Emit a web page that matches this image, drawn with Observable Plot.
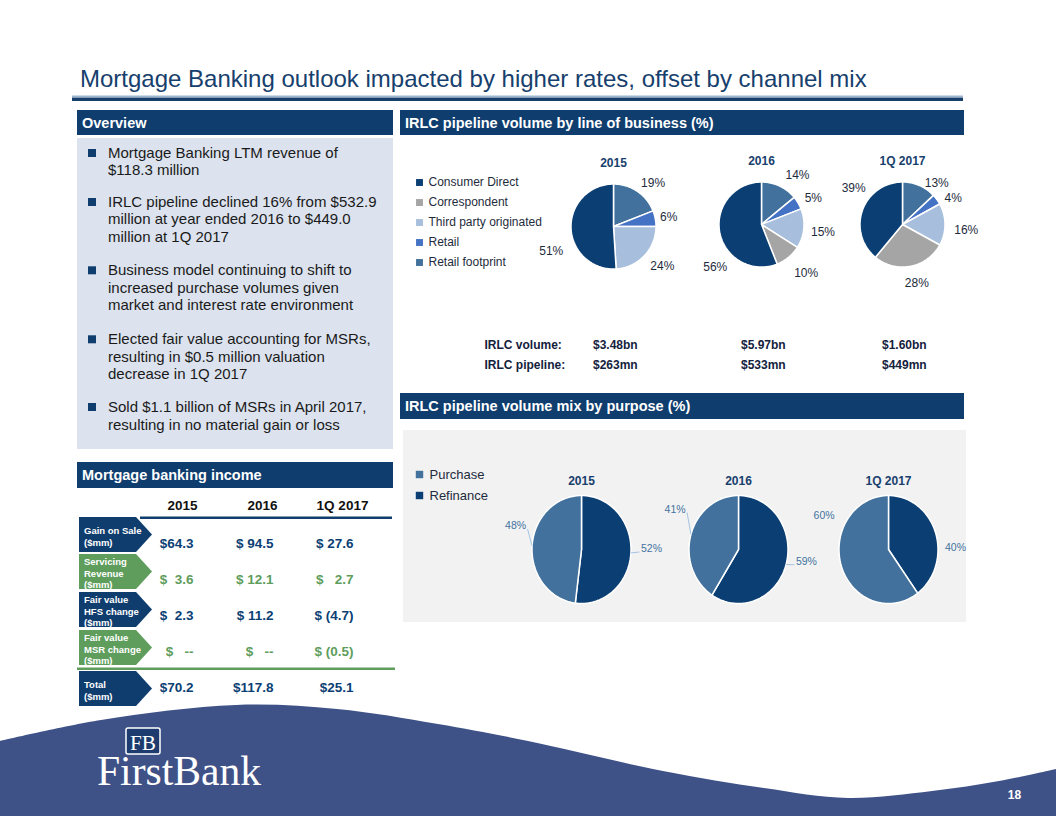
<!DOCTYPE html>
<html><head><meta charset="utf-8">
<script src="https://cdn.jsdelivr.net/npm/d3@7"></script>
<script src="https://cdn.jsdelivr.net/npm/@observablehq/plot@0.6"></script>
<style>
html,body{margin:0;padding:0;background:#fff;overflow:hidden;}
#slide{position:relative;width:1056px;height:816px;overflow:hidden;font-family:"Liberation Sans",Arial,sans-serif;}
#slide svg text{white-space:pre;}
</style></head><body><div id="slide"></div>
<script>
// ---------------- DATA ----------------
const periods = ["2015", "2016", "1Q 2017"];
const channels = ["Consumer Direct", "Correspondent", "Third party originated", "Retail", "Retail footprint"];
const channelShare2015 = [51, 0, 24, 6, 19];
const channelShare2016 = [56, 10, 15, 5, 14];
const channelShare1Q2017 = [39, 28, 16, 4, 13];
const irlcStatLabels = ["IRLC volume:", "IRLC pipeline:"];
const irlcVolume = ["$3.48bn", "$5.97bn", "$1.60bn"];
const irlcPipeline = ["$263mn", "$533mn", "$449mn"];
const purposes = ["Purchase", "Refinance"];
const purchaseShare = [48, 41, 60];
const refinanceShare = [52, 59, 40];
const incomeRows = ["Gain on Sale\n($mm)", "Servicing\nRevenue\n($mm)", "Fair value\nHFS change\n($mm)", "Fair value\nMSR change\n($mm)", "Total\n($mm)"];
const gainOnSale = ["$64.3", "$ 94.5", "$ 27.6"];
const servicingRevenue = ["$  3.6", "$ 12.1", "$   2.7"];
const fairValueHFS = ["$  2.3", "$ 11.2", "$ (4.7)"];
const fairValueMSR = ["$   --", "$   --", "$ (0.5)"];
const totalIncome = ["$70.2", "$117.8", "$25.1"];
const overviewBullets = [
  ["Mortgage Banking LTM revenue of", "$118.3 million"],
  ["IRLC pipeline declined 16% from $532.9", "million at year ended 2016 to $449.0", "million at 1Q 2017"],
  ["Business model continuing to shift to", "increased purchase volumes given", "market and interest rate environment"],
  ["Elected fair value accounting for MSRs,", "resulting in $0.5 million valuation", "decrease in 1Q 2017"],
  ["Sold $1.1 billion of MSRs in April 2017,", "resulting in no material gain or loss"]
];

// ---------------- STYLE / LAYOUT ----------------
const W = 1056, H = 816;
const FONT = "'Liberation Sans', Arial, sans-serif";
const TITLE = "#17406D", BAR = "#0F3D6E", NAVY = "#0B3F74", GREEN = "#5E9D5C", TXT = "#1A1A1A", DARK = "#1E2B3C";
const channelColors = ["#0B3F74", "#A5A5A5", "#A7BFDC", "#4472C4", "#41719C"];
const purposeColors = ["#41719C", "#0B3F74"];
const slide = document.getElementById("slide");

// ---------------- DECOR (slide frame) ----------------
const deco = d3.select(slide).append("svg")
  .attr("width", W).attr("height", H)
  .style("position", "absolute").style("left", "0px").style("top", "0px")
  .attr("font-family", FONT);

deco.append("text").attr("x", 80).attr("y", 87).attr("font-size", 24).attr("fill", TITLE)
  .text("Mortgage Banking outlook impacted by higher rates, offset by channel mix");
deco.append("rect").attr("x", 72).attr("y", 95.5).attr("width", 891).attr("height", 1.6).attr("fill", "#9FB6D2");
deco.append("rect").attr("x", 72).attr("y", 97.5).attr("width", 891).attr("height", 3.5).attr("fill", TITLE);

function bar(x, y, w, h, label) {
  deco.append("rect").attr("x", x).attr("y", y).attr("width", w).attr("height", h).attr("fill", BAR);
  deco.append("text").attr("x", x + 5).attr("y", y + h / 2 + 5).attr("font-size", 14.5)
    .attr("font-weight", "bold").attr("fill", "#fff").text(label);
}
// panels
deco.append("rect").attr("x", 77).attr("y", 138).attr("width", 316).attr("height", 311).attr("fill", "#DCE3EE");
deco.append("rect").attr("x", 403).attr("y", 430).attr("width", 563).attr("height", 192).attr("fill", "#F2F2F2");
bar(77, 110, 316, 25, "Overview");
bar(400, 110, 564, 25, "IRLC pipeline volume by line of business (%)");
bar(400, 393, 564, 26, "IRLC pipeline volume mix by purpose (%)");
bar(77, 462, 316, 26, "Mortgage banking income");

// overview bullets
const bulletCenters = [[152.7, 170], [201.7, 219, 236.7], [270, 287.7, 305], [339, 356.7, 374], [406.7, 425]];
overviewBullets.forEach((lines, i) => {
  deco.append("rect").attr("x", 88).attr("y", bulletCenters[i][0] - 3.7).attr("width", 8).attr("height", 8).attr("fill", BAR);
  lines.forEach((t, j) => {
    deco.append("text").attr("x", 108).attr("y", bulletCenters[i][j] + 5.3).attr("font-size", 15).attr("fill", TXT).text(t);
  });
});

// table frame lines & chevrons
deco.append("rect").attr("x", 140).attr("y", 516.5).attr("width", 252).attr("height", 2.5).attr("fill", BAR);
deco.append("rect").attr("x", 77).attr("y", 667.5).attr("width", 318).attr("height", 2.5).attr("fill", GREEN);
const chevTops = [517, 554, 592, 630, 671], chevH = 35;
incomeRows.forEach((row, i) => {
  const t = chevTops[i], c = i % 2 ? GREEN : BAR;
  deco.append("path").attr("d", `M79,${t}L136,${t}L152,${t + chevH / 2}L136,${t + chevH}L79,${t + chevH}Z`).attr("fill", c);
  const lines = row.split("\n");
  lines.forEach((ln, j) => {
    deco.append("text").attr("x", 84).attr("y", t + chevH / 2 + 2 + (j - (lines.length - 1) / 2) * 11.5 + 3.4)
      .attr("font-size", 9.5).attr("font-weight", "bold").attr("fill", "#fff").text(ln);
  });
});

// footer wave + logo
const wavePts = [[0, 741], [101, 720], [236, 705], [337, 709], [438, 724], [528, 741], [663, 771], [764, 788], [848, 798], [932, 791], [999, 781], [1056, 769]];
deco.append("path").attr("d", d3.line().curve(d3.curveCatmullRom)(wavePts) + "L1056,816L0,816Z").attr("fill", "#3F5287");
deco.append("rect").attr("x", 126).attr("y", 728).attr("width", 34).attr("height", 26).attr("rx", 2)
  .attr("fill", "#1D3B6E").attr("stroke", "#fff").attr("stroke-width", 1.5);
deco.append("text").attr("x", 143).attr("y", 749.5).attr("text-anchor", "middle").attr("font-family", "'Liberation Serif', serif")
  .attr("font-size", 22).attr("fill", "#fff").attr("textLength", 26).attr("lengthAdjust", "spacingAndGlyphs").text("FB");
deco.append("text").attr("x", 97).attr("y", 785).attr("font-family", "'Liberation Serif', serif")
  .attr("font-size", 42).attr("fill", "#fff").attr("textLength", 164).attr("lengthAdjust", "spacingAndGlyphs").text("FirstBank");
deco.append("text").attr("x", 1014.5).attr("y", 799).attr("text-anchor", "middle").attr("font-size", 12)
  .attr("font-weight", "bold").attr("fill", "#fff").text("18");

// ---------------- PLOT HELPERS ----------------
function place(el, left, top) {
  el.style.position = "absolute";
  el.style.left = left + "px";
  el.style.top = top + "px";
  slide.appendChild(el);
}
const plotStyle = {background: "transparent", overflow: "visible", fontFamily: FONT};

function slicesOf(names, values) {
  const total = d3.sum(values);
  let acc = 0;
  const out = [];
  d3.range(names.length).reverse().forEach(i => {
    const a0 = acc / total * 2 * Math.PI;
    acc += values[i];
    const a1 = acc / total * 2 * Math.PI;
    if (values[i] > 0) out.push({name: names[i], value: values[i], a0, a1, mid: (a0 + a1) / 2});
  });
  return out;
}
function polygonOf(s) {
  const pts = [{name: s.name, x: 0, y: 0}];
  const n = Math.max(2, Math.ceil((s.a1 - s.a0) / (Math.PI / 120)));
  for (let k = 0; k <= n; k++) {
    const a = s.a0 + (s.a1 - s.a0) * k / n;
    pts.push({name: s.name, x: Math.sin(a), y: Math.cos(a)});
  }
  return pts;
}

function makePie(o) {
  const slices = slicesOf(o.names, o.values);
  const pts = slices.flatMap(polygonOf);
  const labels = slices.map(s => {
    const adj = (o.adjust && o.adjust[s.name]) || [0, 0];
    const a = s.mid + adj[0] * Math.PI / 180, d = o.labelDist + adj[1];
    const px = Math.sin(a) * d, py = Math.cos(a) * d;
    return {
      label: s.value + "%", x: px / o.rx, y: py / o.ry,
      ex: Math.sin(s.mid), ey: Math.cos(s.mid),
      lx: (px - Math.sign(px) * 12) / o.rx, ly: (py - 3) / o.ry
    };
  });
  const marks = [
    Plot.line(pts, {x: "x", y: "y", z: "name", fill: "name", stroke: "white", strokeWidth: 1.5, curve: "linear-closed", strokeLinejoin: "miter"}),
    Plot.text([o.title], {frameAnchor: "top", lineAnchor: "middle", dy: o.cy - o.titleOffset, fontWeight: "bold", fontSize: 12, fill: TITLE})
  ];
  if (o.leaders) marks.push(Plot.link(labels, {x1: "ex", y1: "ey", x2: "lx", y2: "ly", stroke: "#9CBDE0", strokeWidth: 0.9}));
  marks.push(Plot.text(labels, {x: "x", y: "y", text: "label", fill: o.labelColor, fontSize: o.labelSize}));
  let mb = 0;
  if (o.stats) {
    mb = o.H - (o.cy + (o.statsY - o.pageCy));
    marks.push(Plot.text([o.stats[0]], {x: () => 0, frameAnchor: "bottom", lineAnchor: "middle", textAnchor: "start", dx: -20.5, dy: -20, fontWeight: "bold", fontSize: 12, fill: "#14213D"}));
    marks.push(Plot.text([o.stats[1]], {x: () => 0, frameAnchor: "bottom", lineAnchor: "middle", textAnchor: "start", dx: -20.5, dy: 0, fontWeight: "bold", fontSize: 12, fill: "#14213D"}));
  }
  const p = Plot.plot({
    width: o.W, height: o.H, marginTop: 0, marginLeft: 0, marginRight: 0, marginBottom: mb,
    style: plotStyle,
    x: {domain: [-o.cx / o.rx, (o.W - o.cx) / o.rx], range: [0, o.W], axis: null},
    y: {domain: [-(o.H - o.cy) / o.ry, o.cy / o.ry], range: [o.H, 0], axis: null},
    color: {domain: o.names, range: o.colors},
    marks
  });
  place(p, o.pageCx - o.cx, o.pageCy - o.cy);
}

// ---------------- TOP PIES: line of business ----------------
const topCenters = [[613, 226], [761, 224], [902, 224]];
const topShares = [channelShare2015, channelShare2016, channelShare1Q2017];
const topAdjust = [
  {"Retail footprint": [8, -2], "Retail": [1, -5], "Third party originated": [-4, 2], "Consumer Direct": [-20, 6]},
  {"Retail footprint": [11, 0], "Retail": [4, -3], "Third party originated": [2, 1], "Correspondent": [-3, 5], "Consumer Direct": [-32, 2]},
  {"Retail footprint": [16, -7], "Retail": [9, -4], "Third party originated": [5, 3], "Correspondent": [-3, -1], "Consumer Direct": [17, 0]}
];
periods.forEach((per, i) => {
  makePie({
    title: per, names: channels, values: topShares[i], colors: channelColors,
    pageCx: topCenters[i][0], pageCy: topCenters[i][1], W: 180, H: 240, cx: 90, cy: 80,
    rx: 42.5, ry: 42.5, titleOffset: 63, labelDist: 61, adjust: topAdjust[i],
    labelColor: DARK, labelSize: 12, leaders: false,
    stats: [irlcVolume[i], irlcPipeline[i]], statsY: 365
  });
});

// legend (line of business)
const legTop = Plot.plot({
  width: 160, height: 110, margin: 0, style: plotStyle,
  y: {type: "point", domain: channels, range: [11.7, 91.7], padding: 0, axis: null},
  color: {domain: channels, range: channelColors},
  marks: [
    Plot.dot(channels, {y: d => d, frameAnchor: "left", dx: 9, symbol: "square", fill: d => d, r: 3.9}),
    Plot.text(channels, {y: d => d, frameAnchor: "left", dx: 18, textAnchor: "start", fontSize: 12, fill: DARK})
  ]
});
place(legTop, 410, 170);

// IRLC stat row labels
const statLab = Plot.plot({
  width: 100, height: 40, margin: 0, style: plotStyle,
  y: {type: "point", domain: irlcStatLabels, range: [10, 30], padding: 0, axis: null},
  marks: [Plot.text(irlcStatLabels, {y: d => d, frameAnchor: "left", textAnchor: "start", fontWeight: "bold", fontSize: 12, fill: "#14213D"})]
});
place(statLab, 484, 335);

// ---------------- BOTTOM PIES: purpose ----------------
const botCenters = [[581, 548.5], [738, 549], [888, 549]];
const botAdjust = [
  {"Purchase": [16, 0], "Refinance": [-4, 0]},
  {"Purchase": [16, 5], "Refinance": [-6, -1]},
  {"Purchase": [46, 3], "Refinance": [16, -3]}
];
const botLeaders = [true, true, false];
periods.forEach((per, i) => {
  makePie({
    title: per, names: purposes, values: [purchaseShare[i], refinanceShare[i]], colors: purposeColors,
    pageCx: botCenters[i][0], pageCy: botCenters[i][1], W: 200, H: 160, cx: 100, cy: 80,
    rx: 49.5, ry: 54, titleOffset: 68, labelDist: 70, adjust: botAdjust[i],
    labelColor: "#44739F", labelSize: 10.5, leaders: botLeaders[i]
  });
});
const legBot = Plot.plot({
  width: 100, height: 50, margin: 0, style: plotStyle,
  y: {type: "point", domain: purposes, range: [13.5, 35], padding: 0, axis: null},
  color: {domain: purposes, range: purposeColors},
  marks: [
    Plot.dot(purposes, {y: d => d, frameAnchor: "left", dx: 9, symbol: "square", fill: d => d, r: 4.2}),
    Plot.text(purposes, {y: d => d, frameAnchor: "left", dx: 19, textAnchor: "start", fontSize: 13, fill: DARK})
  ]
});
place(legBot, 410, 460);

// ---------------- INCOME TABLE ----------------
const incomeValues = [gainOnSale, servicingRevenue, fairValueHFS, fairValueMSR, totalIncome];
const incomeCells = incomeRows.flatMap((row, i) => periods.map((p, j) => ({row, period: p, text: incomeValues[i][j], color: i % 2 ? GREEN : NAVY})));
const table = Plot.plot({
  width: 250, height: 225, marginTop: 15, marginLeft: 0, marginRight: 0, marginBottom: 0, style: plotStyle,
  x: {type: "point", domain: periods, range: [43, 203], padding: 0, axis: null},
  y: {type: "point", domain: incomeRows, range: [52, 198], padding: 0, axis: null},
  marks: [
    Plot.text(incomeCells, {x: "period", y: "row", text: "text", fill: "color", textAnchor: "end", fontWeight: "bold", fontSize: 13.5}),
    Plot.text(periods, {x: d => d, frameAnchor: "top", lineAnchor: "middle", dx: -11, fontWeight: "bold", fontSize: 13.5, fill: "#111"})
  ]
});
place(table, 150, 490);
</script></body></html>
